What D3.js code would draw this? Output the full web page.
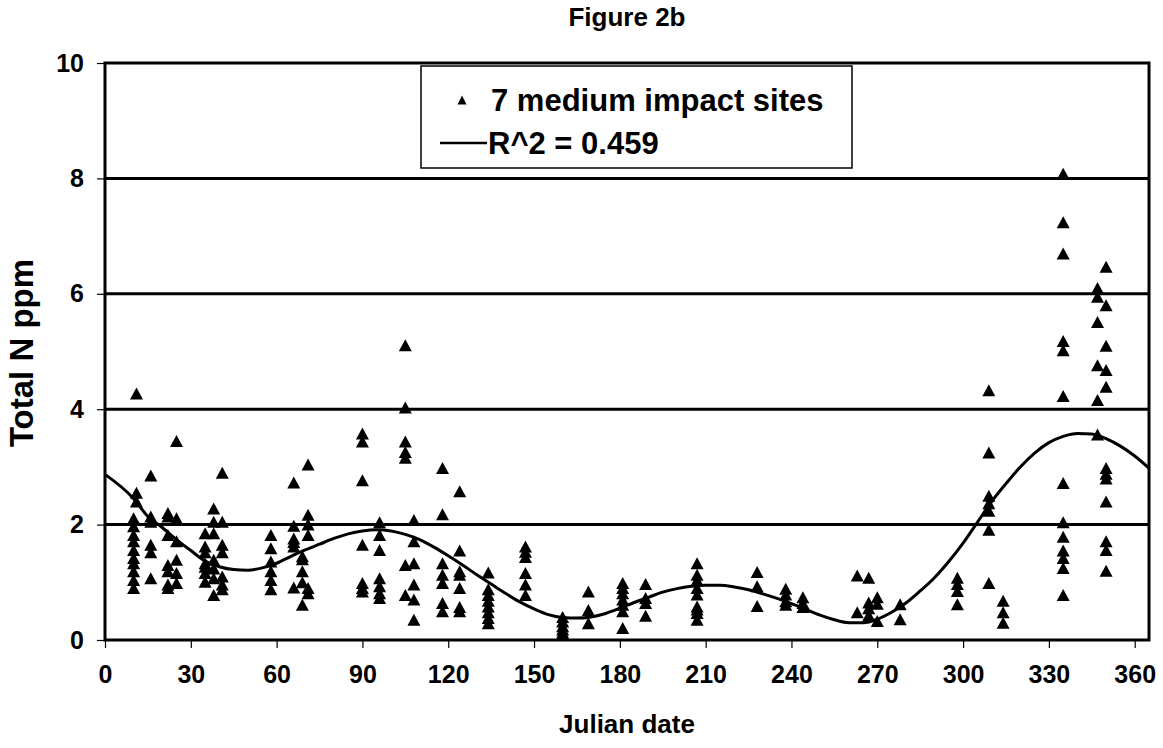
<!DOCTYPE html>
<html>
<head>
<meta charset="utf-8">
<script src="https://cdn.jsdelivr.net/npm/d3@7/dist/d3.min.js"></script>
<style>
  body { margin: 0; background: #fff; }
  text { font-family: "Liberation Sans", Arial, sans-serif; font-weight: bold; fill: #000; }
</style>
</head>
<body>
<svg id="chart" width="1163" height="748"></svg>
<script>
// sampling days (Julian date) and the Total N readings taken on each
var sampleDays = [10, 11, 16, 22, 25, 35, 38, 41, 58, 66, 69, 71, 90, 96, 105, 108, 118, 124,
  134, 147, 160, 169, 181, 189, 207, 228, 238, 244, 263, 267, 270, 278, 298, 309, 314, 335, 347, 350];
var sampleN = [
  [2.11, 1.97, 1.82, 1.71, 1.56, 1.42, 1.33, 1.19, 1.04, 0.90],
  [4.27, 2.55, 2.40],
  [2.85, 2.14, 2.05, 1.65, 1.52, 1.07],
  [2.20, 2.14, 1.82, 1.30, 1.19, 0.96, 0.90],
  [3.45, 2.11, 1.71, 1.39, 1.16, 0.99],
  [1.85, 1.62, 1.52, 1.33, 1.27, 1.16, 1.01],
  [2.28, 2.05, 1.85, 1.39, 1.24, 1.07, 0.78],
  [2.90, 2.05, 1.65, 1.52, 1.10, 0.96, 0.88],
  [1.82, 1.59, 1.36, 1.19, 1.04, 0.88],
  [2.73, 1.98, 1.76, 1.70, 1.62, 0.91],
  [1.45, 1.40, 1.19, 1.00, 0.61],
  [3.04, 2.17, 2.00, 1.82, 0.90, 0.81],
  [3.58, 3.44, 2.77, 1.65, 0.99, 0.90, 0.84],
  [2.04, 1.82, 1.56, 1.07, 0.93, 0.81, 0.73],
  [5.11, 4.03, 3.44, 3.26, 3.16, 1.30, 0.78],
  [2.08, 1.71, 1.33, 0.96, 0.70, 0.35],
  [2.98, 2.18, 1.33, 1.13, 0.99, 0.64, 0.50],
  [2.58, 1.55, 1.19, 1.13, 0.90, 0.57, 0.50],
  [1.17, 0.88, 0.78, 0.68, 0.58, 0.48, 0.38, 0.29],
  [1.62, 1.53, 1.44, 1.16, 0.96, 0.78],
  [0.40, 0.32, 0.24, 0.18, 0.13, 0.09],
  [0.84, 0.52, 0.29],
  [0.99, 0.90, 0.81, 0.70, 0.61, 0.50, 0.21],
  [0.97, 0.73, 0.64, 0.42],
  [1.33, 1.13, 1.04, 0.90, 0.79, 0.58, 0.53, 0.47, 0.35],
  [1.18, 0.93, 0.59],
  [0.89, 0.79, 0.67, 0.61],
  [0.74, 0.64, 0.57],
  [1.12, 0.48],
  [1.08, 0.65, 0.55, 0.43],
  [0.74, 0.63, 0.33],
  [0.62, 0.36],
  [1.08, 0.97, 0.85, 0.62],
  [4.33, 3.25, 2.50, 2.37, 2.24, 1.91, 0.99],
  [0.68, 0.48, 0.30],
  [8.08, 7.24, 6.70, 5.18, 5.02, 4.23, 2.72, 2.04, 1.79, 1.55, 1.42, 1.25, 0.78],
  [6.10, 5.95, 5.51, 4.76, 4.16, 3.56],
  [6.47, 5.80, 5.10, 4.68, 4.39, 2.98, 2.88, 2.80, 2.40, 1.71, 1.56, 1.20]
];

// fitted curve
var fitDays = [0, 10, 15, 20, 25, 30, 35, 40, 45, 50, 55, 60, 65, 70, 75, 80, 85, 90, 95, 100,
  105, 110, 115, 120, 125, 130, 135, 140, 145, 150, 155, 160, 165, 170, 175, 180, 185, 190, 195,
  200, 205, 210, 215, 220, 225, 230, 235, 240, 245, 250, 255, 260, 265, 270, 275, 280, 285, 290,
  295, 300, 305, 310, 315, 320, 325, 330, 335, 340, 345, 350, 355, 360, 365];
var fitN = [2.87, 2.45, 2.14, 1.95, 1.74, 1.55, 1.37, 1.27, 1.22, 1.21, 1.25, 1.33, 1.45, 1.56,
  1.66, 1.76, 1.84, 1.89, 1.91, 1.89, 1.83, 1.74, 1.61, 1.46, 1.30, 1.13, 0.97, 0.81, 0.66, 0.54,
  0.44, 0.39, 0.38, 0.40, 0.46, 0.55, 0.65, 0.74, 0.83, 0.89, 0.93, 0.95, 0.95, 0.92, 0.87, 0.80,
  0.72, 0.63, 0.53, 0.43, 0.35, 0.30, 0.30, 0.36, 0.48, 0.64, 0.85, 1.08, 1.36, 1.68, 2.04, 2.40,
  2.71, 3.00, 3.24, 3.42, 3.53, 3.58, 3.57, 3.49, 3.36, 3.19, 2.98];

var xTicks = [0, 30, 60, 90, 120, 150, 180, 210, 240, 270, 300, 330, 360];
var yTicks = [0, 2, 4, 6, 8, 10];
var gridValues = [2, 4, 6, 8];

var svg = d3.select("#chart");

var x = d3.scaleLinear().domain([0, 365]).range([105, 1149]);
var y = d3.scaleLinear().domain([0, 10]).range([640, 63]);

// horizontal gridlines
svg.selectAll(".grid")
  .data(gridValues).enter()
  .append("line")
  .attr("x1", x(0)).attr("x2", x(365))
  .attr("y1", function(d){ return y(d); })
  .attr("y2", function(d){ return y(d); })
  .attr("stroke", "#000")
  .attr("stroke-width", 3);

// axes
var xAxis = svg.append("g")
  .attr("transform", "translate(0," + y(0) + ")")
  .call(d3.axisBottom(x).tickValues(xTicks).tickSize(8).tickPadding(17));
var yAxis = svg.append("g")
  .attr("transform", "translate(" + x(0) + ",0)")
  .call(d3.axisLeft(y).tickValues(yTicks).tickSize(8).tickPadding(13));

[xAxis, yAxis].forEach(function(a){
  a.select(".domain").remove();
  a.selectAll(".tick line").attr("stroke", "#000").attr("stroke-width", 1.2);
  a.selectAll(".tick text")
    .style("font-family", "'Liberation Sans', Arial, sans-serif")
    .style("font-weight", "bold")
    .style("font-size", "25px");
});

// plot frame
svg.append("rect")
  .attr("x", x(0)).attr("y", y(10))
  .attr("width", x(365) - x(0))
  .attr("height", y(0) - y(10))
  .attr("fill", "none")
  .attr("stroke", "#000")
  .attr("stroke-width", 3);

// fitted line
var fit = fitDays.map(function(d, i){ return [d, fitN[i]]; });
svg.append("path")
  .datum(fit)
  .attr("fill", "none")
  .attr("stroke", "#000")
  .attr("stroke-width", 3)
  .attr("d", d3.line()
    .x(function(d){ return x(d[0]); })
    .y(function(d){ return y(d[1]); })
    .curve(d3.curveMonotoneX));

// triangles
function tri(w, h){
  return "M0," + (-h / 2) + "L" + (w / 2) + "," + (h / 2) + "L" + (-w / 2) + "," + (h / 2) + "Z";
}
var points = [];
sampleDays.forEach(function(day, i){
  sampleN[i].forEach(function(v){ points.push({day: day, n: v}); });
});
svg.selectAll(".pt")
  .data(points).enter()
  .append("path")
  .attr("class", "pt")
  .attr("d", tri(13, 12))
  .attr("transform", function(d){ return "translate(" + x(d.day) + "," + y(d.n) + ")"; })
  .attr("fill", "#000");

// legend
var legend = svg.append("g");
legend.append("rect")
  .attr("x", 421).attr("y", 66)
  .attr("width", 431).attr("height", 102)
  .attr("fill", "#fff")
  .attr("stroke", "#000")
  .attr("stroke-width", 1.5);
legend.append("path")
  .attr("d", tri(9, 9))
  .attr("transform", "translate(462,100)");
legend.append("text")
  .attr("x", 491).attr("y", 111)
  .style("font-size", "31px")
  .text("7 medium impact sites");
legend.append("line")
  .attr("x1", 440).attr("x2", 487)
  .attr("y1", 143).attr("y2", 143)
  .attr("stroke", "#000").attr("stroke-width", 2.5);
legend.append("text")
  .attr("x", 488).attr("y", 154)
  .style("font-size", "31px")
  .text("R^2 = 0.459");

// titles
svg.append("text")
  .attr("x", 627).attr("y", 26)
  .attr("text-anchor", "middle")
  .style("font-size", "26px")
  .text("Figure 2b");
svg.append("text")
  .attr("x", 627).attr("y", 733)
  .attr("text-anchor", "middle")
  .style("font-size", "26px")
  .text("Julian date");
svg.append("text")
  .attr("transform", "translate(33,353) rotate(-90)")
  .attr("text-anchor", "middle")
  .style("font-size", "33px")
  .text("Total N ppm");
</script>
</body>
</html>
